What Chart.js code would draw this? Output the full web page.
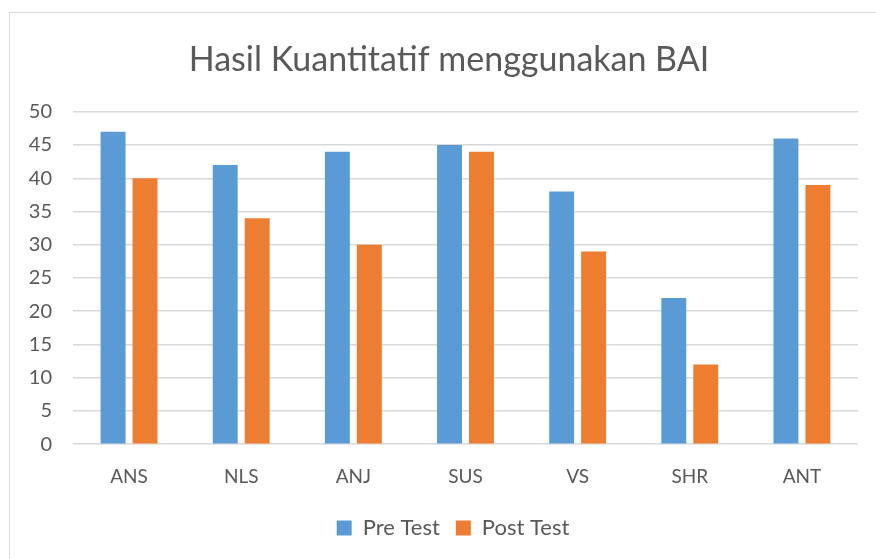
<!DOCTYPE html>
<html>
<head>
<meta charset="utf-8">
<script src="https://cdn.jsdelivr.net/npm/chart.js@4"></script>
<style>
  body { margin: 0; background: #fff; }
  #frame { position: absolute; left: 9px; top: 12px; width: 900px; height: 600px; border: 1px solid #d9d9d9; }
  canvas { position: absolute; left: 0; top: 0; }
</style>
</head>
<body>
<div id="frame"></div>
<canvas id="chart" width="876" height="559"></canvas>
<script>
// data
const categories = ["ANS", "NLS", "ANJ", "SUS", "VS", "SHR", "ANT"];
const preTest = [47, 42, 44, 45, 38, 22, 46];
const postTest = [40, 34, 30, 44, 29, 12, 39];

const textColor = "#595959";
const fontFamily = "Lato, 'Open Sans', sans-serif";

// nudge title and legend to the right, like the original
const shiftBoxes = {
  id: "shiftBoxes",
  afterLayout(chart) {
    chart.titleBlock.left += 10;
    chart.titleBlock.right += 10;
    chart.legend.left += 14;
    chart.legend.right += 14;
  },
};

const ctx = document.getElementById("chart").getContext("2d");
const myChart = new Chart(ctx, {
  type: "bar",
  data: {
    labels: categories,
    datasets: [
      {
        label: "Pre Test",
        data: preTest,
        backgroundColor: "#5B9BD5",
        categoryPercentage: 0.57,
        barPercentage: 0.78,
      },
      {
        label: "Post Test",
        data: postTest,
        backgroundColor: "#ED7D31",
        categoryPercentage: 0.57,
        barPercentage: 0.78,
      },
    ],
  },
  options: {
    responsive: false,
    animation: false,
    layout: { padding: { left: 20, right: 18, top: 40, bottom: 10 } },
    plugins: {
      title: {
        display: true,
        text: "Hasil Kuantitatif menggunakan BAI",
        color: textColor,
        font: { family: fontFamily, size: 34, weight: "normal" },
        padding: { top: 0, bottom: 31 },
      },
      legend: {
        position: "bottom",
        labels: {
          color: textColor,
          font: { family: fontFamily, size: 22 },
          boxWidth: 15,
          boxHeight: 15,
          padding: 16,
        },
      },
      tooltip: { enabled: false },
    },
    scales: {
      x: {
        grid: { display: false },
        border: { display: false },
        ticks: { color: textColor, font: { family: fontFamily, size: 19 }, padding: 13 },
      },
      y: {
        min: 0,
        max: 50,
        ticks: { stepSize: 5, color: textColor, font: { family: fontFamily, size: 20 }, padding: 21 },
        grid: { color: "#d9d9d9", lineWidth: 1.5, drawTicks: false },
        border: { display: false },
        afterFit: (axis) => { axis.width = 53; },
      },
    },
  },
  plugins: [shiftBoxes],
});
</script>
</body>
</html>
